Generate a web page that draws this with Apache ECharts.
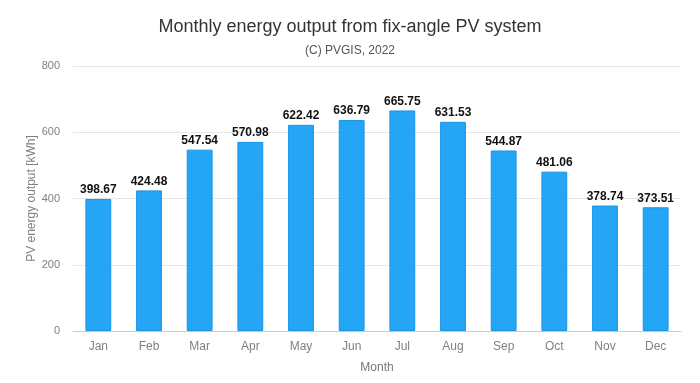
<!DOCTYPE html>
<html><head><meta charset="utf-8">
<script src="https://cdn.jsdelivr.net/npm/echarts@6/dist/echarts.min.js"></script>
<style>html,body{margin:0;padding:0;background:#fff}#c{width:700px;height:383px}</style>
</head><body><div id="c"></div>
<script>
const months = ['Jan','Feb','Mar','Apr','May','Jun','Jul','Aug','Sep','Oct','Nov','Dec'];
const output = [398.67,424.48,547.54,570.98,622.42,636.79,665.75,631.53,544.87,481.06,378.74,373.51];
const yTicks = [0,200,400,600,800];
const chart = echarts.init(document.getElementById('c'));
chart.setOption({
  backgroundColor:'#fff',
  animation:false,
  textStyle:{fontFamily:'Liberation Sans, Arial, sans-serif'},
  title:[
    {text:'Monthly energy output from fix-angle PV system',left:'center',top:13,textStyle:{fontSize:18,fontWeight:'normal',color:'#333'}},
    {text:'(C) PVGIS, 2022',left:'center',top:40,textStyle:{fontSize:12,fontWeight:'normal',color:'#555'}}
  ],
  grid:{left:73,right:19,top:66,bottom:52},
  xAxis:{type:'category',data:months,name:'Month',nameLocation:'middle',nameGap:31,
    nameTextStyle:{color:'#777',fontSize:12},
    axisLine:{lineStyle:{color:'#ccc'}},axisTick:{length:6,lineStyle:{color:'#ccc'}},
    axisLabel:{color:'#808080',fontSize:12,margin:10}},
  yAxis:{type:'value',min:yTicks[0],max:yTicks[yTicks.length-1],interval:200,
    name:'PV energy output [kWh]',nameLocation:'middle',nameGap:35,nameMoveOverlap:false,
    nameTextStyle:{color:'#808080',fontSize:12},
    axisLine:{show:false},axisTick:{show:false},
    axisLabel:{color:'#808080',fontSize:11,margin:13},
    splitLine:{lineStyle:{color:'#e6e6e6'}}},
  series:[{type:'bar',data:output,barWidth:'51%',
    itemStyle:{color:'#24a5f6',borderColor:'#1a94e4',borderWidth:1},
    label:{show:true,position:'top',distance:3,color:'#111',fontWeight:'bold',fontSize:12,
      formatter:p=>p.value.toFixed(2)}}]
});
</script></body></html>
